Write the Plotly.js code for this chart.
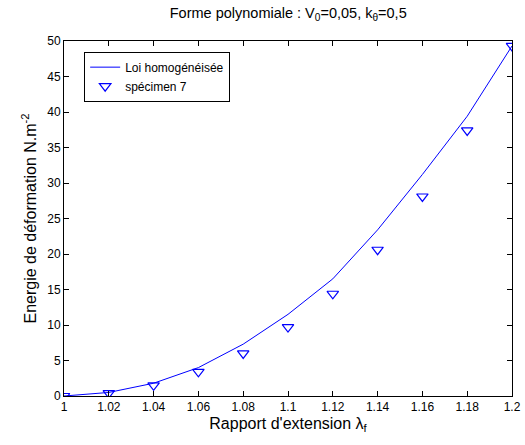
<!DOCTYPE html>
<html>
<head>
<meta charset="utf-8">
<script src="https://cdn.plot.ly/plotly-3.0.1.min.js"></script>
<style>html,body{margin:0;padding:0;background:#fff;}#chart{width:525px;height:445px;}</style>
</head>
<body>
<div id="chart"></div>
<script>
const lambdaVals = [1.00, 1.02, 1.04, 1.06, 1.08, 1.10, 1.12, 1.14, 1.16, 1.18, 1.20];
const loiHomogeneisee = [0, 0.5, 1.8, 4.0, 7.3, 11.5, 16.5, 23.4, 31.2, 39.4, 49.3];
const specimen7 = [0, 0.4, 1.5, 3.4, 6.0, 9.7, 14.4, 20.6, 28.1, 37.4, 49.3];
const xTickVals = [1, 1.02, 1.04, 1.06, 1.08, 1.1, 1.12, 1.14, 1.16, 1.18, 1.2];
const xTickText = ["1", "1.02", "1.04", "1.06", "1.08", "1.1", "1.12", "1.14", "1.16", "1.18", "1.2"];
const yTickVals = [0, 5, 10, 15, 20, 25, 30, 35, 40, 45, 50];

const font = {family: "Liberation Sans, Arial, sans-serif", color: "#000"};

const traces = [
  {x: lambdaVals, y: loiHomogeneisee, name: "Loi homogénéisée", mode: "lines",
   line: {color: "#0000ff", width: 1}},
  {x: lambdaVals, y: specimen7, name: "spécimen 7", mode: "markers",
   marker: {symbol: "triangle-down-open", color: "#0000ff", size: 10, line: {width: 1.2, color: "#0000ff"}}}
];

const axisCommon = {
  showgrid: false, zeroline: false, showline: true, linecolor: "#000", linewidth: 1,
  mirror: "ticks", ticks: "inside", ticklen: 5, tickcolor: "#000",
  tickfont: {family: font.family, size: 12, color: "#000"}
};

const layout = {
  width: 525, height: 445,
  margin: {l: 64, r: 13, t: 41, b: 49},
  paper_bgcolor: "#fff", plot_bgcolor: "#fff",
  font: font,
  showlegend: true,
  title: {text: "Forme polynomiale : V<sub>0</sub>=0,05, k<sub>θ</sub>=0,5",
          font: {family: font.family, size: 14.5, color: "#000"},
          x: 0.549, xanchor: "center", y: 0.97, yanchor: "middle"},
  xaxis: Object.assign({}, axisCommon, {
    range: [1, 1.2], tickvals: xTickVals, ticktext: xTickText,
    title: {text: "Rapport d'extension λ<sub>f</sub>", font: {family: font.family, size: 16, color: "#000"}, standoff: 4}
  }),
  yaxis: Object.assign({}, axisCommon, {
    range: [0, 50], tickvals: yTickVals,
    title: {text: "Energie de déformation N.m<sup>-2</sup>", font: {family: font.family, size: 16, color: "#000"}, standoff: 6}
  }),
  legend: {x: 0.045, y: 0.97, xanchor: "left", yanchor: "top",
           bgcolor: "#fff", bordercolor: "#000", borderwidth: 1,
           font: {family: font.family, size: 12, color: "#000"},
           tracegroupgap: 0, itemwidth: 30}
};

Plotly.newPlot("chart", traces, layout, {displayModeBar: false, staticPlot: true});
</script>
</body>
</html>
